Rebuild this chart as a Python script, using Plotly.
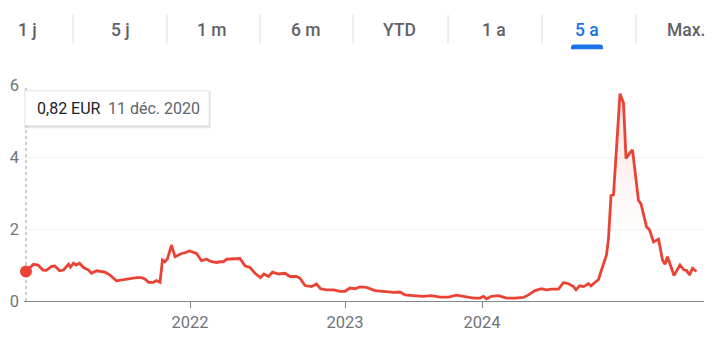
import plotly.graph_objects as go

# ---- data (session index along a 5-year window, price in EUR) ----
session = [0, 15, 24, 34, 41, 51, 58, 67, 75, 85, 89, 95, 100, 107, 115, 125, 131, 141, 158, 168,
           181, 195, 208, 221, 231, 238, 245, 255, 261, 268, 273, 278, 283, 291, 298, 305, 311, 318,
           327, 335, 341, 351, 361, 371, 381, 388, 395, 401, 415, 428, 438, 448, 458, 469, 476, 485,
           493, 505, 518, 528, 541, 548, 558, 571, 581, 589, 601, 615, 628, 638, 648, 658, 668, 681,
           698, 708, 718, 735, 748, 758, 775, 795, 811, 828, 845, 861, 875, 895, 908, 915, 921, 931,
           945, 961, 978, 995, 1005, 1015, 1018, 1031, 1041, 1051, 1065, 1075, 1085, 1095, 1100,
           1107, 1115, 1125, 1130, 1140, 1145, 1150, 1158, 1161, 1165, 1170, 1175, 1183, 1188, 1195,
           1200, 1208, 1213, 1225, 1230, 1238, 1241, 1247, 1255, 1265, 1273, 1278, 1283, 1296, 1308,
           1316, 1321, 1327, 1333, 1341]
price = [0.82, 1.02, 1.00, 0.86, 0.85, 0.96, 0.97, 0.84, 0.86, 1.02, 0.94, 1.05, 1.00, 1.05, 0.93,
         0.86, 0.77, 0.84, 0.80, 0.72, 0.56, 0.59, 0.61, 0.65, 0.65, 0.61, 0.52, 0.52, 0.57, 0.52,
         1.14, 1.09, 1.18, 1.55, 1.23, 1.28, 1.32, 1.34, 1.39, 1.35, 1.32, 1.12, 1.16, 1.09, 1.07,
         1.09, 1.09, 1.16, 1.17, 1.18, 0.98, 0.93, 0.77, 0.65, 0.75, 0.68, 0.80, 0.75, 0.77, 0.68,
         0.68, 0.63, 0.43, 0.40, 0.47, 0.34, 0.31, 0.31, 0.27, 0.27, 0.36, 0.34, 0.39, 0.38, 0.29,
         0.28, 0.27, 0.24, 0.25, 0.17, 0.15, 0.13, 0.15, 0.11, 0.11, 0.16, 0.13, 0.08, 0.08, 0.13,
         0.06, 0.13, 0.15, 0.08, 0.08, 0.10, 0.17, 0.27, 0.29, 0.34, 0.31, 0.33, 0.33, 0.51, 0.48,
         0.40, 0.31, 0.42, 0.40, 0.48, 0.42, 0.54, 0.59, 0.82, 1.14, 1.28, 1.74, 2.93, 2.95, 4.58,
         5.76, 5.50, 3.96, 4.12, 4.20, 2.79, 2.70, 2.24, 2.06, 1.98, 1.64, 1.72, 1.14, 1.02, 1.23,
         0.71, 1.00, 0.86, 0.85, 0.72, 0.91, 0.82]

year_ticks = [328, 638, 912]
year_labels = ["2022", "2023", "2024"]
y_ticks = [0, 2, 4, 6]

tabs = ["1 j", "5 j", "1 m", "6 m", "YTD", "1 a", "5 a", "Max."]
active_tab = "5 a"

tooltip_value = "0,82 EUR"
tooltip_date = "11 déc. 2020"

# ---- layout helpers (pixel -> paper) ----
L, R, T, B = 24, 8, 85, 37
W, H = 712, 340
PW, PH = W - L - R, H - T - B


def px(x):
    return (x - L) / PW


def py(y):
    return (H - B - y) / PH


RED = "#ea4335"
GREY = "#70757a"

fig = go.Figure()
fig.add_trace(go.Scatter(
    x=session, y=price, mode="lines",
    line=dict(color=RED, width=2.8),
    fill="tozeroy",
    fillgradient=dict(type="vertical", start=0, stop=6,
                      colorscale=[[0, "rgba(234,67,53,0)"], [0.3, "rgba(234,67,53,0.0)"],
                                  [1, "rgba(234,67,53,0.16)"]]),
    hoverinfo="skip", showlegend=False,
))
fig.add_trace(go.Scatter(
    x=[session[0]], y=[price[0]], mode="markers", cliponaxis=False,
    marker=dict(color=RED, size=12), hoverinfo="skip", showlegend=False,
))

shapes = []
# dotted crosshair
shapes.append(dict(type="line", xref="x", yref="y", x0=session[0], x1=session[0], y0=0, y1=6,
                   line=dict(color="#9aa0a6", width=1, dash="dot"), layer="below"))
# tab separators
for sx in [73, 167, 260, 353, 448, 542, 636]:
    shapes.append(dict(type="line", xref="paper", yref="paper", x0=px(sx), x1=px(sx),
                       y0=py(14), y1=py(43), line=dict(color="#dadce0", width=1)))
# active tab underline (rounded top)
x0, x1, ytop, ybot = 571, 603, 44, 49
r = 3
path = (f"M {px(x0)},{py(ybot)} L {px(x0)},{py(ytop + r)} "
        f"Q {px(x0)},{py(ytop)} {px(x0 + r)},{py(ytop)} "
        f"L {px(x1 - r)},{py(ytop)} Q {px(x1)},{py(ytop)} {px(x1)},{py(ytop + r)} "
        f"L {px(x1)},{py(ybot)} Z")
shapes.append(dict(type="path", xref="paper", yref="paper", path=path,
                   fillcolor="#1a73e8", line=dict(width=0)))
# tooltip shadow + box
for off, col in [(2, "rgba(0,0,0,0.06)"), (1, "rgba(0,0,0,0.08)")]:
    shapes.append(dict(type="rect", xref="paper", yref="paper",
                       x0=px(25 - off + 1), x1=px(209 + off), y0=py(126 + off + 1), y1=py(91 - off + 1),
                       fillcolor=col, line=dict(width=0)))
shapes.append(dict(type="rect", xref="paper", yref="paper",
                   x0=px(25), x1=px(209), y0=py(126), y1=py(91),
                   fillcolor="white", line=dict(color="#e8eaed", width=1)))

annotations = []
tab_centers = [27, 120, 212, 306, 399, 494, 587, 686]
for name, cx in zip(tabs, tab_centers):
    annotations.append(dict(
        text=name, xref="paper", yref="paper", x=px(cx), y=py(29),
        xanchor="center", yanchor="middle", showarrow=False,
        font=dict(family="Roboto", size=17.5, weight=500,
                  color="#1a73e8" if name == active_tab else "#5f6368"),
    ))
annotations.append(dict(text=tooltip_value, xref="paper", yref="paper", x=px(35), y=py(109),
                        xanchor="left", yanchor="middle", showarrow=False,
                        font=dict(family="Roboto", size=16, color="#202124")))
annotations.append(dict(text=tooltip_date, xref="paper", yref="paper", x=px(106), y=py(109),
                        xanchor="left", yanchor="middle", showarrow=False,
                        font=dict(family="Roboto", size=16, color="#5f6368")))

fig.update_layout(
    width=W, height=H,
    margin=dict(l=L, r=R, t=T, b=B),
    paper_bgcolor="white", plot_bgcolor="white",
    shapes=shapes, annotations=annotations,
    hovermode=False,
    xaxis=dict(range=[-4, 1356], tickvals=year_ticks, ticktext=year_labels,
               showgrid=False, zeroline=False, showline=True, linecolor="#80868b", linewidth=1,
               ticks="outside", ticklen=6, tickcolor="#80868b",
               tickfont=dict(family="Roboto", size=16.5, color=GREY), fixedrange=True),
    yaxis=dict(range=[0, 6], tickvals=y_ticks, showgrid=True, gridcolor="#f1f3f4", gridwidth=1,
               zeroline=False, showline=False, ticks="", ticklabelstandoff=4,
               tickfont=dict(family="Roboto", size=16.5, color=GREY), fixedrange=True),
)

fig.write_html("out.html", config={"displayModeBar": False})
